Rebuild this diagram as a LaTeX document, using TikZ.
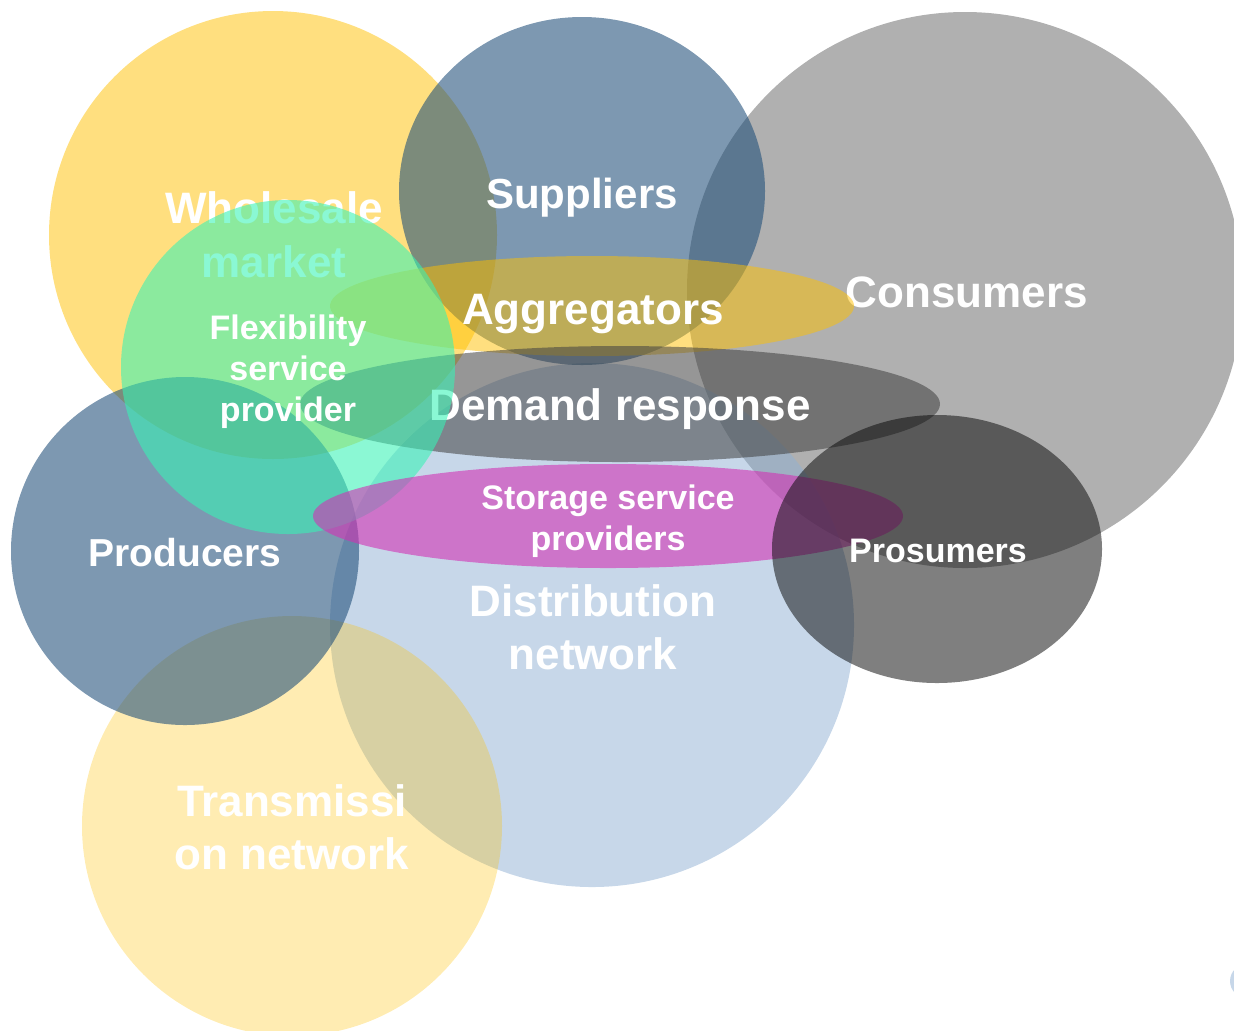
\documentclass[tikz,border=0pt]{standalone}
\usepackage{fontspec}
\setmainfont{Liberation Sans}
\begin{document}
\begin{tikzpicture}[x=0.5pt,y=-0.5pt,
  yellowset/.style={fill={rgb,255:red,255;green,192;blue,0}, fill opacity=0.5},
  paleyellowset/.style={fill={rgb,255:red,255;green,192;blue,0}, fill opacity=0.3},
  greyset/.style={fill={rgb,255:red,176;green,176;blue,176}},
  navyset/.style={fill={rgb,255:red,31;green,78;blue,121}, fill opacity=0.58},
  skyset/.style={fill={rgb,255:red,143;green,176;blue,212}, fill opacity=0.5},
  darkset/.style={fill={rgb,255:red,64;green,64;blue,64}, fill opacity=0.55},
  mintset/.style={fill={rgb,255:red,55;green,243;blue,181}, fill opacity=0.58},
  magentaset/.style={fill={rgb,255:red,210;green,50;blue,180}, fill opacity=0.6},
  blackset/.style={fill={rgb,255:red,10;green,10;blue,10}, fill opacity=0.52},
  lbl/.style={text=white, anchor=base, inner sep=0pt, font=\bfseries\fontsize{22}{26}\selectfont},
  lblsup/.style={lbl, font=\bfseries\fontsize{21}{25}\selectfont},
  lblmid/.style={lbl, font=\bfseries\fontsize{19.5}{23}\selectfont},
  lblsmall/.style={lbl, font=\bfseries\fontsize{17}{20}\selectfont}]
\useasboundingbox (0,0) rectangle (1234,1030);
\clip (0,0) rectangle (1234,1030);

% wholesale market
\fill[yellowset] (273,235) circle [radius=224];
\node[lbl] (wm1) at (274,223) {Wholesale};
\node[lbl] (wm2) at (274,277) {market};

% consumers
\fill[greyset] (965,290) circle [radius=278];
\node[lbl] (cons) at (967,307) {Consumers};

% distribution and transmission networks
\fill[skyset] (592,625) circle [radius=262];
\fill[skyset] (1247,981) circle [radius=17];
\fill[paleyellowset] (292,826) circle [radius=210];

% producers and suppliers
\fill[navyset] (185,551) circle [radius=174];
\fill[navyset] (582,191) ellipse [x radius=183, y radius=174];

% aggregators
\fill[yellowset] (592,306) ellipse [x radius=262, y radius=50];

% demand response
\fill[darkset] (620,404) ellipse [x radius=320, y radius=58];
\node[lbl] (dr) at (620,420) {Demand response};

% flexibility service provider
\fill[mintset] (288,367) circle [radius=167];
\node[lblsmall] (fx1) at (288,339) {Flexibility};
\node[lblsmall] (fx2) at (288,380) {service};
\node[lblsmall] (fx3) at (288,421) {provider};

% storage service providers
\fill[magentaset] (608,516) ellipse [x radius=295, y radius=52];

% prosumers
\fill[blackset] (937,549) ellipse [x radius=165, y radius=134];

% remaining labels on top
\node[lblsup] (sup) at (582,208) {Suppliers};
\node[lbl] (agg) at (593,324) {Aggregators};
\node[lblsmall] (st1) at (608,509) {Storage service};
\node[lblsmall] (st2) at (608,550) {providers};
\node[lblmid] (prod) at (185,566) {Producers};
\node[lblsmall] (pros) at (938,562) {Prosumers};
\node[lbl] (dn1) at (593,616) {Distribution};
\node[lbl] (dn2) at (593,669) {network};
\node[lbl] (tn1) at (292,816) {Transmissi};
\node[lbl] (tn2) at (292,869) {on network};
\end{tikzpicture}
\end{document}
